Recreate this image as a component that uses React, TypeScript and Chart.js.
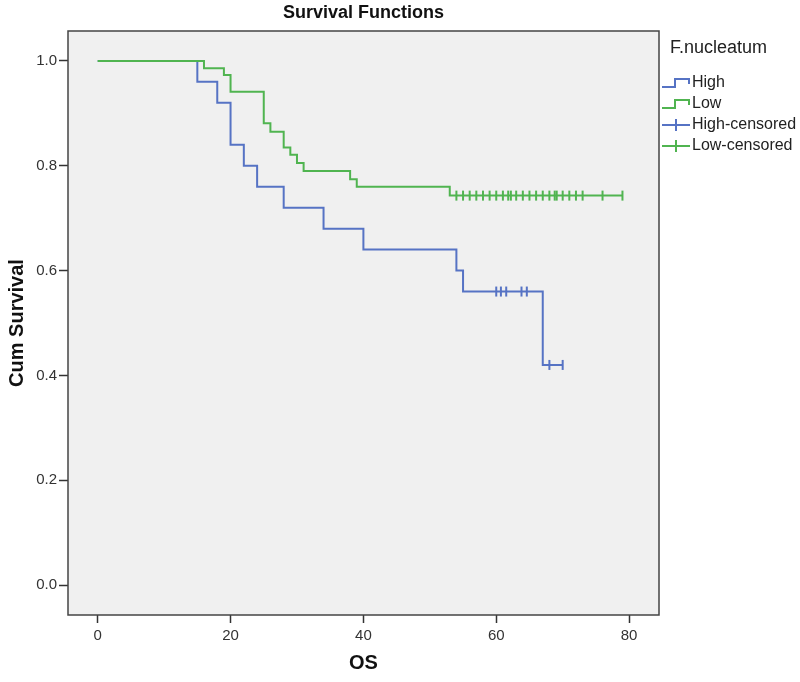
import React, { useEffect, useRef } from 'react';
import { Chart, registerables } from 'chart.js';

Chart.register(...registerables);

// ---- Data ----
const highTimes = [15, 18, 20, 22, 24, 28, 34, 40, 54, 55, 67];
const highSurv = [0.96, 0.92, 0.84, 0.8, 0.76, 0.72, 0.68, 0.64, 0.6, 0.56, 0.42];
const highEnd = 70;
const highCensored = [60, 60.7, 61.5, 63.8, 64.6, 68, 70];

const lowTimes = [16, 19, 20, 25, 26, 28, 29, 30, 31, 38, 39, 53];
const lowSurv = [0.986, 0.973, 0.941, 0.881, 0.865, 0.835, 0.821, 0.805, 0.79, 0.774, 0.76, 0.743];
const lowEnd = 79;
const lowCensored = [54, 55, 56, 57, 58, 59, 60, 61, 61.8, 62.2, 63, 64, 65, 66, 67, 68, 68.8, 69.1, 70, 71, 72, 73, 76, 79];

const xTicks = [0, 20, 40, 60, 80];
const yTicks = [0, 0.2, 0.4, 0.6, 0.8, 1.0];
const legendTitle = 'F.nucleatum';
const legendLabels = ['High', 'Low', 'High-censored', 'Low-censored'];
const chartTitle = 'Survival Functions';
const xTitle = 'OS';
const yTitle = 'Cum Survival';

const BLUE = '#5673c4';
const GREEN = '#50b450';
const FONT = "'Liberation Sans', Arial, sans-serif";

function stepValue(times: number[], surv: number[], t: number): number {
  let v = 1;
  for (let i = 0; i < times.length; i++) if (times[i] <= t) v = surv[i];
  return v;
}

function curve(times: number[], surv: number[], end: number) {
  const pts = [{ x: 0, y: 1 }];
  times.forEach((t, i) => pts.push({ x: t, y: surv[i] }));
  pts.push({ x: end, y: surv[surv.length - 1] });
  return pts;
}

function censorPts(c: number[], times: number[], surv: number[]) {
  return c.map((t) => ({ x: t, y: stepValue(times, surv, t) }));
}

const framePlugin = {
  id: 'frame',
  beforeDraw(chart: any) {
    const { ctx, chartArea: a } = chart;
    ctx.save();
    ctx.fillStyle = '#ffffff';
    ctx.fillRect(0, 0, chart.width, chart.height);
    ctx.fillStyle = '#f0f0f0';
    ctx.fillRect(a.left, a.top, a.right - a.left, a.bottom - a.top);
    ctx.restore();
  },
  afterDraw(chart: any) {
    const { ctx, chartArea: a } = chart;
    ctx.save();
    ctx.strokeStyle = '#444';
    ctx.lineWidth = 1.5;
    ctx.strokeRect(a.left, a.top, a.right - a.left, a.bottom - a.top);

    // title, centred over the plot area
    ctx.fillStyle = '#111';
    ctx.font = `bold 18px ${FONT}`;
    ctx.textBaseline = 'middle';
    ctx.textAlign = 'center';
    ctx.fillText(chartTitle, (a.left + a.right) / 2, 13);

    // legend
    ctx.textAlign = 'left';
    ctx.font = `18px ${FONT}`;
    ctx.fillStyle = '#222';
    ctx.fillText(legendTitle, 670, 48);
    ctx.font = `16px ${FONT}`;
    const ys = [83, 104, 125, 146];
    const colors = [BLUE, GREEN, BLUE, GREEN];
    legendLabels.forEach((lab, i) => {
      const y = ys[i];
      ctx.strokeStyle = colors[i];
      ctx.lineWidth = 2;
      ctx.beginPath();
      if (i < 2) {
        ctx.moveTo(662, y + 4);
        ctx.lineTo(675, y + 4);
        ctx.lineTo(675, y - 4);
        ctx.lineTo(689, y - 4);
        ctx.lineTo(689, y + 1);
      } else {
        ctx.moveTo(662, y);
        ctx.lineTo(690, y);
        ctx.moveTo(676, y - 6);
        ctx.lineTo(676, y + 6);
      }
      ctx.stroke();
      ctx.fillStyle = '#222';
      ctx.fillText(lab, 692, y);
    });
    ctx.restore();
  },
};

export default function App() {
  const ref = useRef<HTMLCanvasElement | null>(null);

  useEffect(() => {
    document.body.style.margin = '0';
    Chart.defaults.font.family = FONT;
    const canvas = ref.current!;
    const chart = new Chart(canvas, {
      type: 'line',
      data: {
        datasets: [
          {
            label: 'Low',
            data: curve(lowTimes, lowSurv, lowEnd),
            borderColor: GREEN,
            borderWidth: 2,
            stepped: 'before',
            pointRadius: 0,
            fill: false,
            order: 1,
          },
          {
            label: 'High',
            data: curve(highTimes, highSurv, highEnd),
            borderColor: BLUE,
            borderWidth: 2,
            stepped: 'before',
            pointRadius: 0,
            fill: false,
            order: 2,
          },
          {
            label: 'Low-censored',
            data: censorPts(lowCensored, lowTimes, lowSurv),
            showLine: false,
            pointStyle: 'line',
            rotation: 90,
            pointRadius: 5,
            borderColor: GREEN,
            backgroundColor: GREEN,
            pointBorderWidth: 2,
            order: 0,
          },
          {
            label: 'High-censored',
            data: censorPts(highCensored, highTimes, highSurv),
            showLine: false,
            pointStyle: 'line',
            rotation: 90,
            pointRadius: 5,
            borderColor: BLUE,
            backgroundColor: BLUE,
            pointBorderWidth: 2,
            order: 0,
          },
        ] as any,
      },
      options: {
        animation: false,
        responsive: false,
        maintainAspectRatio: false,
        layout: { padding: { left: 0, top: 31, right: 141, bottom: 0 } },
        plugins: {
          legend: { display: false },
          title: { display: false },
          tooltip: { enabled: false },
        },
        scales: {
          x: {
            type: 'linear',
            min: -4.47,
            max: 84.5,
            afterFit: (s: any) => {
              s.height = 67;
            },
            afterBuildTicks: (s: any) => {
              s.ticks = xTicks.map((v) => ({ value: v }));
            },
            grid: {
              drawOnChartArea: false,
              drawTicks: true,
              tickLength: 8,
              tickColor: '#333',
              tickWidth: 1.5,
            },
            border: { display: false },
            ticks: {
              color: '#333',
              font: { size: 15 },
              padding: 4,
              maxRotation: 0,
              callback: (v: any) => String(v),
            },
            title: {
              display: true,
              text: xTitle,
              color: '#111',
              font: { size: 20, weight: 'bold' },
              padding: { top: 0, bottom: 7 },
            },
          },
          y: {
            type: 'linear',
            min: -0.057,
            max: 1.057,
            afterFit: (s: any) => {
              s.width = 68;
            },
            afterBuildTicks: (s: any) => {
              s.ticks = yTicks.map((v) => ({ value: v }));
            },
            grid: {
              drawOnChartArea: false,
              drawTicks: true,
              tickLength: 9,
              tickColor: '#333',
              tickWidth: 1.5,
            },
            border: { display: false },
            ticks: {
              color: '#333',
              font: { size: 15 },
              padding: 2,
              callback: (v: any) => Number(v).toFixed(1),
            },
            title: {
              display: true,
              text: yTitle,
              color: '#111',
              font: { size: 20, weight: 'bold' },
              padding: { top: 5, bottom: 0 },
            },
          },
        },
      },
      plugins: [framePlugin],
    });
    return () => chart.destroy();
  }, []);

  return (
    <div style={{ width: 800, height: 682 }}>
      <canvas ref={ref} width={800} height={682} style={{ display: 'block' }} />
    </div>
  );
}
